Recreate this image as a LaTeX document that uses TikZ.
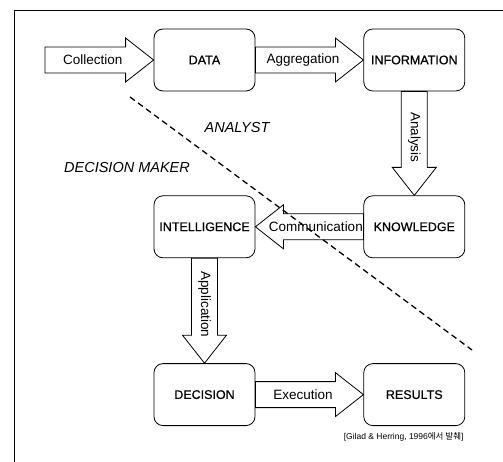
\documentclass[tikz,border=0pt]{standalone}
\usepackage{fontspec}
\setmainfont{Liberation Sans}
\newfontfamily\boxfont{Liberation Sans}[FakeBold=0.7]
\newfontfamily\krfont{Noto Sans CJK KR}
\usetikzlibrary{positioning,calc}

% fat arrow: tail, tip, label name, label, label rotation
\newcommand{\fatarrow}[5]{%
  \coordinate (hb) at ($(#2)!28pt!(#1)$);
  \draw[fat] ($(#1)!13pt!90:(#2)$) -- ($(hb)!13pt!90:(#2)$)
    -- ($(hb)!22pt!90:(#2)$) -- (#2) -- ($(hb)!22pt!-90:(#2)$)
    -- ($(hb)!13pt!-90:(#2)$) -- ($(#1)!13pt!-90:(#2)$) -- cycle;
  \node[flow, rotate=#5] (#3) at ($(#1)!0.44!(#2)$) {#4};
}

\begin{document}
\begin{tikzpicture}[
  x=1pt, y=-1pt,
  box/.style={rectangle, draw, rounded corners=9pt, line width=0.8pt,
              minimum width=101pt, minimum height=62pt, inner sep=2pt,
              fill=white, font=\boxfont\fontsize{12.5}{14}\selectfont},
  fat/.style={draw, line width=0.8pt, fill=white, line join=miter},
  flow/.style={inner sep=0pt, font=\fontsize{13.5}{15}\selectfont},
  role/.style={font=\fontsize{14.5}{16}\selectfont\itshape},
  border/.style={line width=0.9pt},
  split/.style={line width=1.3pt, dash pattern=on 6pt off 4pt},
  node distance=104pt and 108pt
]
  \useasboundingbox (0,0) rectangle (503,462);
  \draw[border] (14,470) |- (510,10);

  \node[box] (data) at (204.5,60) {DATA};
  \node[box, right=of data] (info) {INFORMATION};
  \node[box, below=of info] (know) {KNOWLEDGE};
  \node[box, left=of know] (intel) {INTELLIGENCE};
  \node[box, below=105pt of intel] (dec) {DECISION};
  \node[box, right=of dec] (res) {RESULTS};

  \coordinate (src) at (45,60);
  \fatarrow{src}{data.west}{coll}{Collection}{0}
  \fatarrow{data.east}{info.west}{aggr}{Aggregation}{0}
  \fatarrow{info.south}{know.north}{anal}{Analysis}{-90}
  \fatarrow{know.west}{intel.east}{comm}{Communication}{0}
  \fatarrow{intel.south}{dec.north}{appl}{Application}{-90}
  \fatarrow{dec.east}{res.west}{exec}{Execution}{0}

  % analyst / decision maker split
  \coordinate (cut1) at (130,97);
  \coordinate (cut2) at (472,350);
  \draw[split] (cut1) -- (cut2);
  \node[role] (analyst) at (237,128) {ANALYST};
  \node[role] (maker) at (127,168) {DECISION MAKER};

  \node[font=\fontsize{8.5}{10}\selectfont, anchor=east] (src note) at (467,437)
    {[Gilad \& Herring, 1996{\krfont 에서 발췌}]};
\end{tikzpicture}
\end{document}
